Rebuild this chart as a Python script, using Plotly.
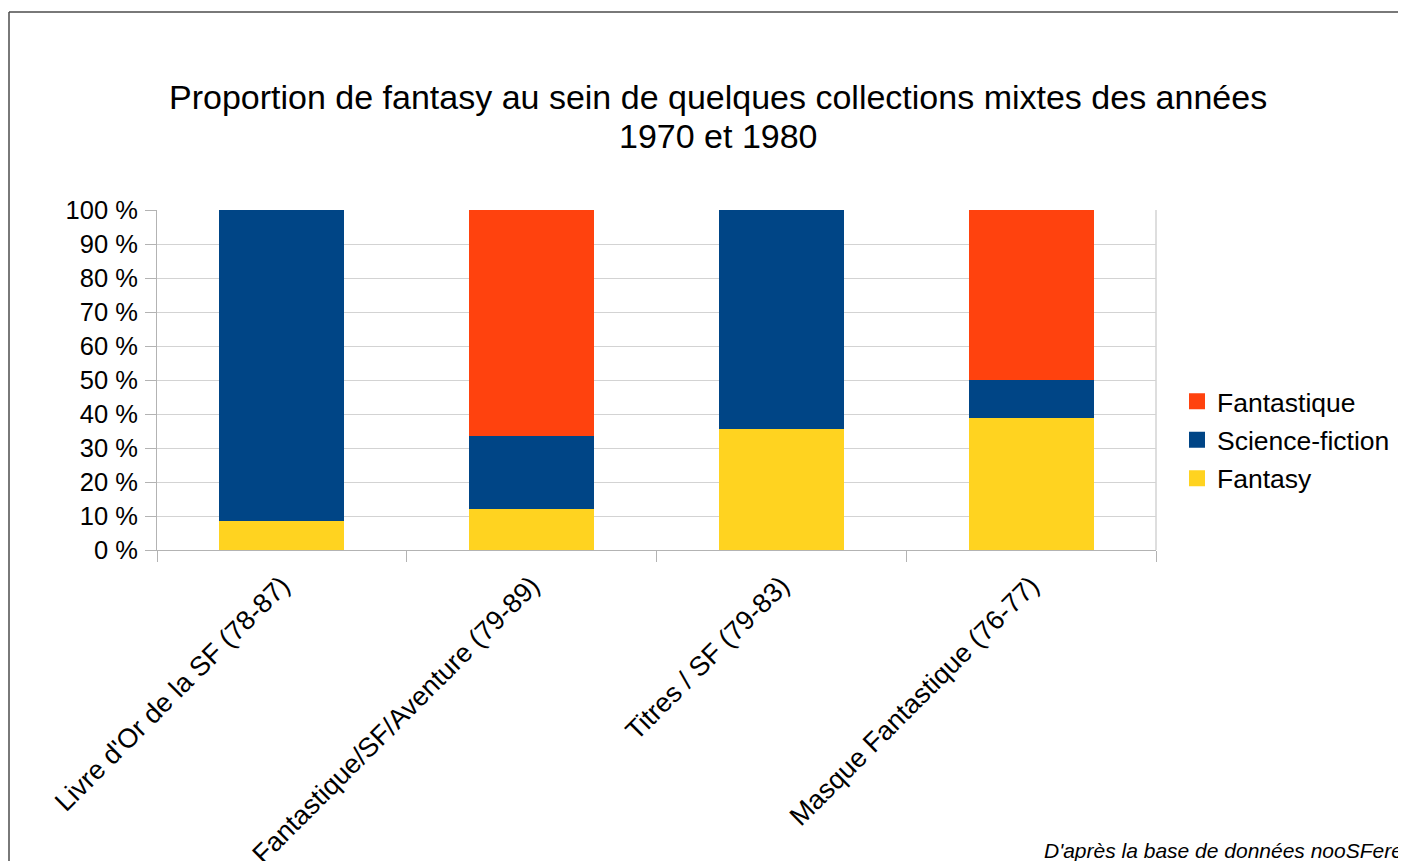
import plotly.graph_objects as go

categories = [
    "Livre d'Or de la SF (78-87)",
    "Fantastique/SF/Aventure (79-89)",
    "Titres / SF (79-83)",
    "Masque Fantastique (76-77)",
]
fantasy = [8.5, 12.1, 35.6, 38.8]
science_fiction = [91.5, 21.4, 64.4, 11.2]
fantastique = [0.0, 66.5, 0.0, 50.0]

series = [
    ("Fantasy", fantasy, "#ffd320", 3),
    ("Science-fiction", science_fiction, "#004586", 2),
    ("Fantastique", fantastique, "#ff420e", 1),
]

title_line1 = "Proportion de fantasy au sein de quelques collections mixtes des années"
title_line2 = "1970 et 1980"
source_text = "D'après la base de données nooSFere"
y_ticks = [0, 10, 20, 30, 40, 50, 60, 70, 80, 90, 100]
y_labels = [f"{v} %" for v in y_ticks]

FONT = "Liberation Sans, Arial, sans-serif"

# page offset (body margin) so reference pixel coords map onto figure coords
OFF = 8
W, H = 1406 - OFF, 861 - OFF
L, R, T, B = 157 - OFF, 1156 - OFF, 210 - OFF, 550 - OFF


def px_x(px):
    return (px - OFF - L) / (R - L)


def px_y(py):
    return (B - (py - OFF)) / (B - T)


fig = go.Figure()
for name, vals, color, rank in series:
    fig.add_trace(go.Bar(
        x=categories, y=vals, name=name,
        marker=dict(color=color, line=dict(width=0)),
        showlegend=False,
        hoverinfo="x+y+name",
    ))
# legend entries with larger square swatches
for name, vals, color, rank in series:
    fig.add_trace(go.Scatter(
        x=[None], y=[None], name=name, mode="markers",
        marker=dict(color=color, symbol="square", size=16, line=dict(width=0)),
        legendgroup=name,
        legendrank=rank,
        showlegend=True,
    ))

fig.update_layout(
    width=W, height=H,
    barmode="stack",
    bargap=0.5,
    plot_bgcolor="white",
    paper_bgcolor="white",
    font=dict(family=FONT, color="black", size=25),
    margin=dict(l=L, r=W - R, t=T, b=H - B, autoexpand=False),
    showlegend=True,
    legend=dict(
        x=px_x(1177), xanchor="left",
        y=px_y(440), yanchor="middle",
        traceorder="grouped",
        tracegroupgap=1,
        font=dict(size=26.5, family=FONT),
        itemwidth=30,
        itemsizing="trace",
        bgcolor="rgba(0,0,0,0)",
    ),
    xaxis=dict(
        type="category",
        tickangle=-45,
        tickson="boundaries",
        ticks="outside",
        ticklen=11,
        tickcolor="#b3b3b3",
        tickwidth=1,
        showline=True,
        linecolor="#b3b3b3",
        linewidth=1,
        showgrid=False,
        tickfont=dict(size=27, family=FONT),
        ticklabelstandoff=8,
        automargin=False,
    ),
    yaxis=dict(
        range=[0, 100],
        tickvals=y_ticks,
        ticktext=y_labels,
        ticks="outside",
        ticklen=11,
        tickcolor="#b3b3b3",
        showline=True,
        linecolor="#b3b3b3",
        linewidth=1,
        showgrid=True,
        gridcolor="#d3d3d3",
        gridwidth=1,
        zeroline=False,
        tickfont=dict(size=25.5, family=FONT),
        ticklabelstandoff=2,
        automargin=False,
    ),
    annotations=[
        dict(
            text=title_line1, xref="paper", yref="paper",
            x=px_x(718), y=px_y(97), xanchor="center", yanchor="middle",
            showarrow=False, align="center",
            font=dict(size=34, family=FONT, color="black"),
        ),
        dict(
            text=title_line2, xref="paper", yref="paper",
            x=px_x(718), y=px_y(136), xanchor="center", yanchor="middle",
            showarrow=False, align="center",
            font=dict(size=34, family=FONT, color="black"),
        ),
        dict(
            text="<i>" + source_text + "</i>", xref="paper", yref="paper",
            x=px_x(1042), y=px_y(850), xanchor="left", yanchor="middle",
            showarrow=False, align="left",
            font=dict(size=21, family=FONT, color="black"),
        ),
    ],
    shapes=[
        dict(type="line", xref="paper", yref="paper",
             x0=1, x1=1, y0=0, y1=1,
             line=dict(color="#d3d3d3", width=1.5), layer="above"),
        dict(type="line", xref="paper", yref="paper",
             x0=px_x(9), x1=px_x(1420), y0=px_y(12), y1=px_y(12),
             line=dict(color="#4d4d4d", width=1.5)),
        dict(type="line", xref="paper", yref="paper",
             x0=px_x(9), x1=px_x(9), y0=px_y(12), y1=px_y(880),
             line=dict(color="#4d4d4d", width=1.5)),
    ],
)

fig.write_html("out.html")
